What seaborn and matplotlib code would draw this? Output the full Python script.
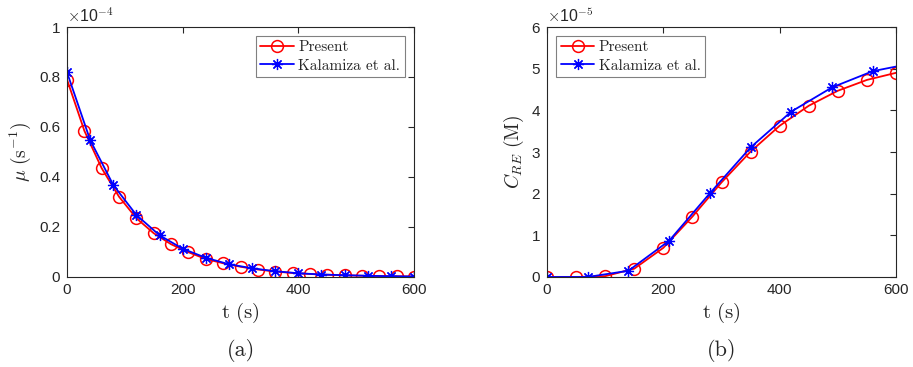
import numpy as np
import pandas as pd
import matplotlib
matplotlib.use("Agg")
import matplotlib.pyplot as plt
import seaborn as sns
from matplotlib.ticker import FuncFormatter

sns.set_theme(style="white")
plt.rcParams['font.family'] = ['Liberation Sans', 'DejaVu Sans']
plt.rcParams['mathtext.fontset'] = 'cm'

# ---- Panel (a): mu (x1e-4 s^-1) ----
t_present_a = [0, 30, 60, 90, 120, 150, 180, 210, 240, 270, 300, 330, 360, 390,
               420, 450, 480, 510, 540, 570, 600]
mu_present = [0.79, 0.585, 0.435, 0.321, 0.235, 0.175, 0.131, 0.099, 0.072, 0.055,
              0.041, 0.030, 0.022, 0.016, 0.012, 0.009, 0.007, 0.005, 0.004, 0.003, 0.002]
t_kal_a = [0, 40, 80, 120, 160, 200, 240, 280, 320, 360, 400, 440, 480, 520, 560, 600]
mu_kal = [0.819, 0.548, 0.368, 0.248, 0.167, 0.113, 0.077, 0.051, 0.035, 0.023,
          0.015, 0.010, 0.007, 0.005, 0.003, 0.002]

# ---- Panel (b): C_RE (x1e-5 M) ----
t_present_b = [0, 50, 100, 150, 200, 250, 300, 350, 400, 450, 500, 550, 600]
c_present = [0.0, 0.0, 0.02, 0.20, 0.70, 1.45, 2.27, 3.01, 3.63, 4.11, 4.47, 4.73, 4.90]
t_kal_b = [0, 70, 140, 210, 280, 350, 420, 490, 560, 600]
c_kal = [0.0, 0.0, 0.15, 0.87, 2.01, 3.11, 3.97, 4.55, 4.94, 5.05]

labels = ["Present", "Kalamiza et al."]
x_ticks = [0, 200, 400, 600]

W, H = 913, 367
fig = plt.figure(figsize=(W / 100, H / 100), dpi=100)
ax1 = fig.add_axes([67 / W, 90 / H, 347 / W, 250 / H])
ax2 = fig.add_axes([547 / W, 90 / H, 349 / W, 250 / H])

dark = '#262626'
red_kw = dict(color='red', marker='o', markersize=8.5, markerfacecolor='none',
              markeredgecolor='red', markeredgewidth=1.1, linewidth=1.3)
blue_kw = dict(color='blue', marker=(8, 2, 0), markersize=8, markeredgecolor='blue',
               markeredgewidth=0.9, linewidth=1.3)

sns.lineplot(x=t_present_a, y=mu_present, ax=ax1, label=labels[0], **red_kw)
sns.lineplot(x=t_kal_a, y=mu_kal, ax=ax1, label=labels[1], **blue_kw)

sns.lineplot(x=t_present_b, y=c_present, ax=ax2, label=labels[0], **red_kw)
sns.lineplot(x=t_kal_b, y=c_kal, ax=ax2, label=labels[1],
             markevery=list(range(len(t_kal_b) - 1)), **blue_kw)

fmt = FuncFormatter(lambda v, p: f"{v:g}")
for ax, ylim, yt, ylabel, exp, cap, legloc in [
    (ax1, (0, 1), np.arange(0, 1.01, 0.2), r'$\mu\ (\mathrm{s}^{-1})$', '-4', '(a)', 'upper right'),
    (ax2, (0, 6), np.arange(0, 6.1, 1), r'$C_{RE}\ (\mathrm{M})$', '-5', '(b)', 'upper left'),
]:
    ax.set_xlim(0, 600)
    ax.set_ylim(*ylim)
    ax.set_xticks(x_ticks)
    ax.set_yticks(yt)
    ax.yaxis.set_major_formatter(fmt)
    ax.tick_params(direction='in', length=4, width=0.8, top=True, right=True,
                   labelsize=11, colors=dark, pad=4)
    ax.tick_params(axis='y', pad=5)
    for s in ax.spines.values():
        s.set_color(dark)
        s.set_linewidth(0.8)
        s.set_visible(True)
    ax.set_xlabel(r'$\mathrm{t\ (s)}$', fontsize=15, color=dark, labelpad=3)
    ax.set_ylabel(ylabel, fontsize=14, color=dark, labelpad=4)
    ax.text(0.0, 1.01, r'$\times$10$^{' + exp + '}$', transform=ax.transAxes,
            fontsize=11.5, color=dark, ha='left', va='bottom',
            fontfamily='Liberation Sans')
    ax.text(0.5, -0.292, cap, transform=ax.transAxes, ha='center', va='center',
            fontsize=16, fontfamily='cmr10')
    leg = ax.legend(loc=legloc, prop={'family': 'cmr10', 'size': 11},
                    frameon=True, fancybox=False, framealpha=1, edgecolor='#808080',
                    borderpad=0.3, handlelength=2.2, handletextpad=0.3,
                    labelspacing=0.3, borderaxespad=0.6)
    leg.get_frame().set_linewidth(0.8)

fig.savefig('out.png', dpi=100)
